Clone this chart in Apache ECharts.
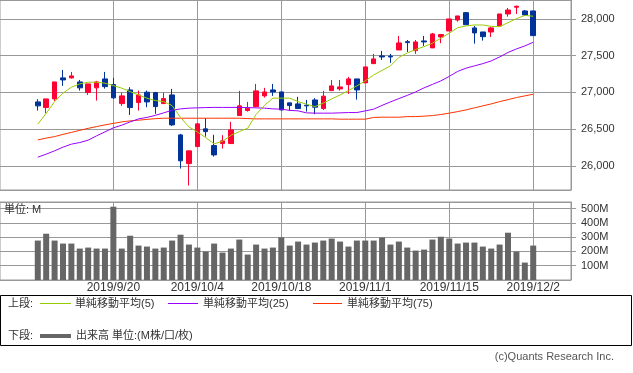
<!DOCTYPE html>
<html><head><meta charset="utf-8">
<script src="https://cdn.jsdelivr.net/npm/echarts@6/dist/echarts.min.js"></script>
<style>html,body{margin:0;padding:0;background:#fff}#main{width:633px;height:373px}</style>
</head><body><div id="main"></div>
<script>
// ---- data ----
const dates = ['2019/9/9','2019/9/10','2019/9/11','2019/9/12','2019/9/13','2019/9/16','2019/9/17','2019/9/18','2019/9/19','2019/9/20',
'2019/9/23','2019/9/24','2019/9/25','2019/9/26','2019/9/27','2019/9/30','2019/10/1','2019/10/2','2019/10/3','2019/10/4',
'2019/10/7','2019/10/8','2019/10/9','2019/10/10','2019/10/11','2019/10/14','2019/10/15','2019/10/16','2019/10/17','2019/10/18',
'2019/10/21','2019/10/22','2019/10/23','2019/10/24','2019/10/25','2019/10/28','2019/10/29','2019/10/30','2019/10/31','2019/11/1',
'2019/11/4','2019/11/5','2019/11/6','2019/11/7','2019/11/8','2019/11/11','2019/11/12','2019/11/13','2019/11/14','2019/11/15',
'2019/11/18','2019/11/19','2019/11/20','2019/11/21','2019/11/22','2019/11/25','2019/11/26','2019/11/27','2019/11/29','2019/12/2'];
const tickLabels = ['2019/9/20','2019/10/4','2019/10/18','2019/11/1','2019/11/15','2019/12/2'];
const open = [26871,26794,26912,27198,27198,27143,26998,27062,27184,27107,
26848,27034,26862,27003,26998,26848,26966,26422,26032,26263,
26504,26277,26304,26304,26685,26753,26807,26953,27034,27007,
26858,26844,26826,26898,26780,27025,27048,27107,27184,27130,
27392,27497,27493,27578,27691,27569,27701,27606,27755,27837,
27986,28086,27878,27823,27823,27905,28068,28159,28109,28109];
const close = [26817,26912,27143,27170,27225,27062,27116,27143,27079,26926,
26953,26794,26966,26871,26807,26916,26558,26069,26205,26572,
26467,26150,26341,26490,26817,26786,27021,27007,27007,26762,
26821,26780,26817,26799,26949,27089,27075,27184,27034,27347,
27456,27483,27483,27674,27678,27687,27687,27796,27787,28000,
28041,27922,27810,27759,27878,28068,28122,28173,28054,27773];
const low = [26753,26717,26885,27089,27188,27025,26966,26889,27052,26912,
26817,26694,26753,26799,26708,26844,26545,25964,25733,26263,
26399,26127,26236,26304,26685,26739,26807,26930,26953,26753,
26749,26780,26739,26704,26762,27025,27025,26980,26902,27130,
27392,27442,27402,27578,27551,27524,27633,27606,27670,27837,
27963,27922,27664,27705,27755,27905,28031,28068,28041,27773];
const high = [26908,26912,27143,27306,27279,27170,27116,27157,27279,27198,
26998,27071,27025,27025,27007,26998,27048,26436,26205,26580,
26650,26423,26418,26599,27021,26871,27116,27062,27116,27007,
26858,26940,26898,26922,27021,27170,27170,27211,27184,27347,
27524,27565,27524,27769,27714,27714,27769,27810,27796,28000,
28041,28095,27905,27823,27891,28068,28150,28181,28122,28109];
const ma5 = [26568,26715,26875,26990,27071,27116,27139,27139,27126,27093,
27058,27011,26966,26922,26889,26875,26821,26660,26530,26463,
26385,26300,26335,26415,26467,26513,26700,26825,26922,26922,
26922,26875,26840,26807,26854,26912,26966,27025,27089,27157,
27238,27300,27361,27476,27538,27585,27623,27670,27738,27806,
27882,27905,27918,27918,27898,27895,27950,28004,28048,28037];
const ma25 = [26119,26160,26205,26255,26296,26318,26350,26409,26463,26518,
26554,26599,26640,26660,26688,26722,26758,26776,26786,26790,
26794,26796,26796,26796,26796,26794,26790,26786,26776,26772,
26756,26749,26722,26718,26718,26718,26722,26726,26726,26749,
26772,26824,26871,26916,26960,27007,27062,27109,27157,27218,
27286,27330,27361,27392,27429,27483,27544,27592,27633,27683];
const ma75 = [26354,26378,26399,26429,26456,26484,26511,26535,26558,26579,
26599,26613,26622,26633,26643,26649,26649,26649,26649,26649,
26649,26649,26649,26649,26649,26644,26640,26640,26640,26640,
26640,26640,26640,26640,26640,26640,26636,26636,26636,26636,
26660,26663,26663,26663,26671,26671,26677,26685,26699,26718,
26739,26762,26790,26817,26844,26875,26902,26930,26953,26976];
const volume = [276,324,276,255,255,220,227,220,220,513,
220,310,241,234,220,227,276,317,248,227,
199,255,192,220,283,178,248,220,227,299,
241,269,248,262,276,290,269,234,276,276,
276,297,248,269,227,206,213,283,303,290,
255,262,262,234,220,248,331,199,122,241];
const padBefore = ['pad-a1','pad-a2','pad-a3','pad-a4'];
const padAfter = ['pad-b1','pad-b2','pad-b3','pad-b4'];

// ---- chart ----
const categories = padBefore.concat(dates, padAfter);
const FONT = "'Liberation Sans','Noto Sans CJK JP',sans-serif";
const GRID = '#999999';
const TXT = '#333333';
const GRIDS = [{left: 0, top: 0, width: 571, height: 190}, {left: 0, top: 202, width: 571, height: 78}];
const chart = echarts.init(document.getElementById('main'), null, {renderer: 'canvas'});

function maSeries(name, arr, color) {
  return {
    name: name, type: 'line', xAxisIndex: 0, yAxisIndex: 0, z: 12,
    data: dates.map((d, i) => [d, arr[i]]),
    showSymbol: false, symbol: 'none',
    lineStyle: {color: color, width: 1}
  };
}
const txt = (x, y, s, extra) => ({
  type: 'text', x: x, y: y, silent: true, z: 20,
  style: Object.assign({text: s, fill: TXT, font: '11px ' + FONT, verticalAlign: 'middle', align: 'left'}, extra || {})
});
const seg = (x1, x2, y, color, w) => ({
  type: 'line', silent: true, z: 20,
  shape: {x1: x1, y1: y, x2: x2, y2: y},
  style: {stroke: color, lineWidth: w}
});

const option = {
  animation: false,
  textStyle: {fontFamily: FONT},
  grid: GRIDS.map(g => Object.assign({show: true, borderColor: GRID, borderWidth: 1}, g)),
  xAxis: [
    {type: 'category', gridIndex: 0, data: categories, boundaryGap: true,
     axisLine: {show: false}, axisTick: {show: false}, axisLabel: {show: false}, splitLine: {show: false}},
    {type: 'category', gridIndex: 1, data: categories, boundaryGap: true,
     axisLine: {show: false}, axisTick: {show: false}, splitLine: {show: false},
     axisLabel: {show: true, color: TXT, fontSize: 12, fontFamily: FONT, margin: 2,
       interval: (i, v) => tickLabels.indexOf(v) >= 0,
       formatter: v => (tickLabels.indexOf(v) >= 0 ? v : '')}}
  ],
  yAxis: [
    {type: 'value', gridIndex: 0, position: 'right', scale: true, min: 25672, max: 28258, splitNumber: 5,
     axisLine: {show: true, lineStyle: {color: GRID}},
     axisTick: {show: true, length: 5, lineStyle: {color: GRID}},
     splitLine: {show: true, lineStyle: {color: GRID, width: 1}},
     axisLabel: {color: TXT, fontSize: 11, fontFamily: FONT, margin: 10, showMinLabel: false, showMaxLabel: false,
       formatter: v => Math.round(v).toLocaleString('en-US')}},
    {type: 'value', gridIndex: 1, position: 'right', min: 0, max: 546, interval: 100,
     axisLine: {show: true, lineStyle: {color: GRID}},
     axisTick: {show: true, length: 5, lineStyle: {color: GRID}},
     splitLine: {show: true, lineStyle: {color: GRID, width: 1}},
     axisLabel: {color: TXT, fontSize: 11, fontFamily: FONT, margin: 10, showMinLabel: false, showMaxLabel: false,
       formatter: '{value}M'}}
  ],
  series: [
    {type: 'candlestick', xAxisIndex: 0, yAxisIndex: 0, z: 11, barWidth: 5,
     data: dates.map((d, i) => [d, open[i], close[i], low[i], high[i]]),
     encode: {x: 0, y: [1, 2, 3, 4]},
     itemStyle: {color: '#ff0033', color0: '#003399', borderColor: '#ff0033', borderColor0: '#003399', borderWidth: 1}},
    maSeries('MA75', ma75, '#ff3300'),
    maSeries('MA25', ma25, '#9900ff'),
    maSeries('MA5', ma5, '#99cc00'),
    {type: 'bar', xAxisIndex: 1, yAxisIndex: 1, z: 11, barWidth: 6,
     data: dates.map((d, i) => [d, volume[i]]),
     itemStyle: {color: '#666666'}}
  ]
};
chart.setOption(option);

// vertical grid lines at the labelled dates (position from the category axis; layout fallback)
const gridLines = [];
tickLabels.forEach(t => {
  const idx = categories.indexOf(t);
  let px = NaN;
  try {
    px = chart.convertToPixel({xAxisIndex: 0}, idx);
    if (Array.isArray(px)) px = px[0];
  } catch (e) { px = NaN; }
  const slot = GRIDS[0].width / categories.length;
  if (!isFinite(px) || px < GRIDS[0].left || px > GRIDS[0].left + GRIDS[0].width) {
    px = GRIDS[0].left + (idx + 0.5) * slot;
  }
  const x = Math.round(px) + 0.5;
  GRIDS.forEach(g => gridLines.push({
    type: 'line', silent: true, z: 10,
    shape: {x1: x, y1: g.top, x2: x, y2: g.top + g.height},
    style: {stroke: GRID, lineWidth: 1}
  }));
});

const legendItems = [
  txt(4, 210, '単位: M'),
  {type: 'rect', silent: true, z: 20, shape: {x: 0.5, y: 295.5, width: 631, height: 50},
   style: {fill: 'none', stroke: '#000000', lineWidth: 1}},
  txt(8, 304, '上段:'),
  seg(40, 71, 303.5, '#99cc00', 1),
  txt(75, 304, '単純移動平均(5)'),
  seg(168, 198, 303.5, '#9900ff', 1),
  txt(203, 304, '単純移動平均(25)'),
  seg(313, 342, 303.5, '#ff3300', 1),
  txt(347, 304, '単純移動平均(75)'),
  txt(8, 336, '下段:'),
  seg(40, 71, 336, '#666666', 4),
  txt(76, 336, '出来高 単位:(M株/口/枚)'),
  txt(614, 357, '(c)Quants Research Inc.', {align: 'right', fill: '#555555'})
];
chart.setOption({graphic: gridLines.concat(legendItems)});
</script>
</body></html>
